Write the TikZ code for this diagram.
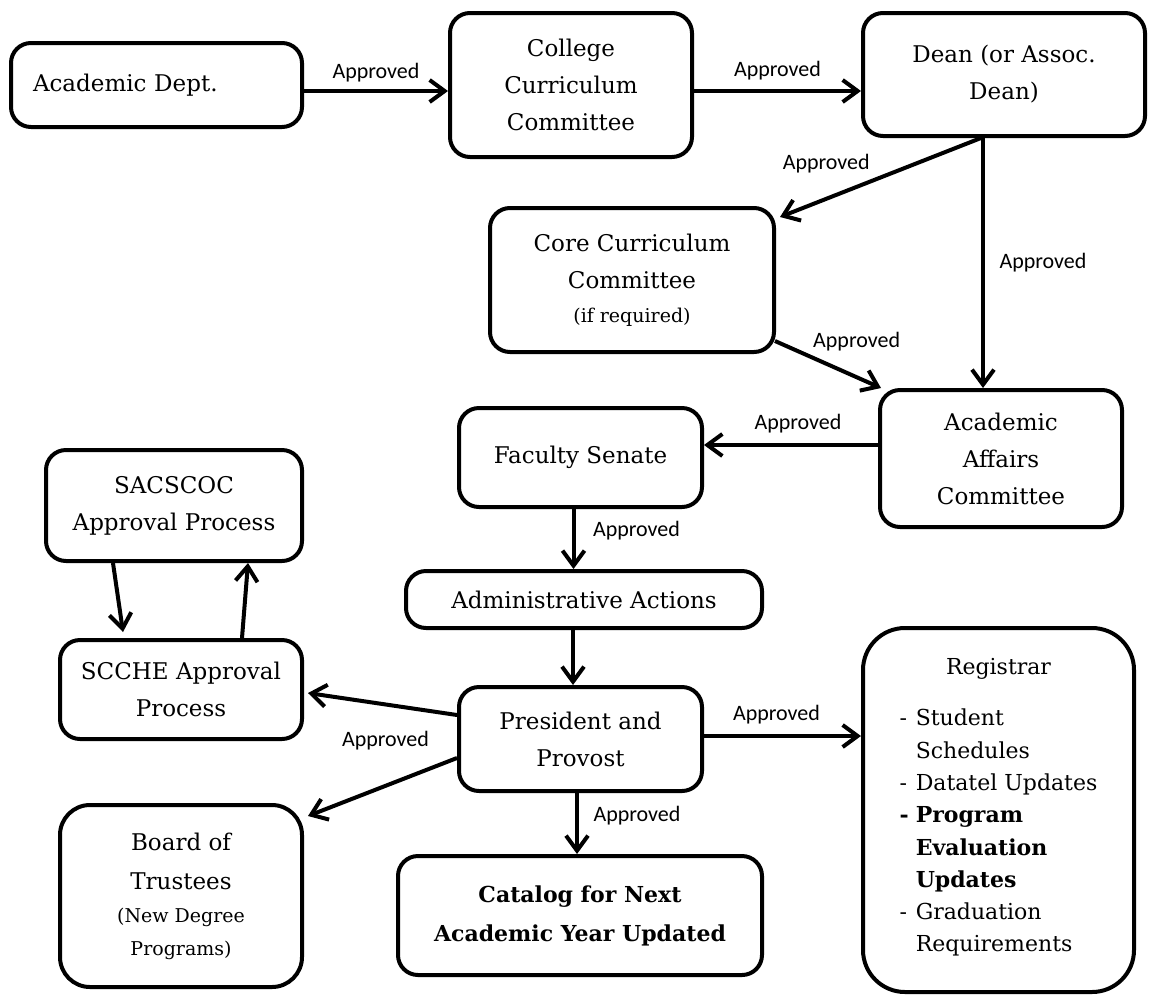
\documentclass[tikz,border=0pt]{standalone}
\usepackage{fontspec}
\setmainfont{DejaVu Serif}
\newfontfamily\lblfont{Carlito}
\usetikzlibrary{arrows.meta}
\newcommand{\smalltext}{\fontsize{19}{30}\selectfont}

\begin{document}
\begin{tikzpicture}[
		x=1pt,
		y=-1pt,
		box/.style={draw, line width=4pt, rounded corners=20pt, align=center, inner sep=0pt, font=\fontsize{23}{37}\selectfont},
		lbl/.style={font=\lblfont\fontsize{22}{26}\selectfont, inner sep=1pt},
		flow/.style={line width=4pt, -{Straight Barb[length=15pt,width=22pt]}},
	]
		\useasboundingbox (0,0) rectangle (1156,994);

		% top row
		\node[box, minimum width=291pt, minimum height=84pt, text width=247pt, align=left] (dept) at (156.5,85) {Academic Dept.};
		\node[box, minimum width=242pt, minimum height=144pt] (college) at (571,85) {College\\Curriculum\\Committee};
		\node[box, minimum width=282pt, minimum height=123pt] (dean) at (1004,74.5) {Dean (or Assoc.\\Dean)};

		\node[box, minimum width=284pt, minimum height=144pt] (core) at (632,280) {Core Curriculum\\Committee\\[-3pt]{\smalltext (if required)}};
		\node[box, minimum width=242pt, minimum height=137pt] (affairs) at (1001,458.5) {Academic\\Affairs\\Committee};
		\node[box, minimum width=243pt, minimum height=99pt] (senate) at (580.5,457.5) {Faculty Senate};

		% left column
		\node[box, minimum width=256pt, minimum height=111pt] (sacscoc) at (174,505.5) {SACSCOC\\Approval Process};
		\node[box, minimum width=242pt, minimum height=99pt] (scche) at (181,689.5) {SCCHE Approval\\Process};
		\node[box, rounded corners=30pt, minimum width=242pt, minimum height=182pt] (board) at (181,896) {Board of\\[2pt]Trustees\\[-4pt]{\smalltext (New Degree}\\[-4pt]{\smalltext Programs)}};

		% middle column
		\node[box, minimum width=356pt, minimum height=57pt] (admin) at (584,599.5) {Administrative Actions};
		\node[box, minimum width=243pt, minimum height=104pt] (pres) at (580.5,739) {President and\\Provost};
		\node[box, minimum width=364pt, minimum height=119pt, font=\fontsize{22}{39}\selectfont\bfseries] (catalog) at (580,915.5) {Catalog for Next\\Academic Year Updated};

		% registrar
		\node[box, rounded corners=42pt, minimum width=271pt, minimum height=364pt, font=\fontsize{22}{32.3}\selectfont] (registrar) at (998.5,810) {Registrar\\[19pt]
			\begin{tabular}[t]{@{}l@{\hspace{7pt}}l@{}}
				- & Student\\
				  & Schedules\\
				- & Datatel Updates\\
				\textbf{-} & \textbf{Program}\\
				  & \textbf{Evaluation}\\
				  & \textbf{Updates}\\
				- & Graduation\\
				  & Requirements
			\end{tabular}};

		% connectors
		\draw[flow] ([yshift=-6pt]dept.east) -- ([yshift=-6pt]dept.east -| college.west) node[lbl, midway, yshift=18pt] {Approved};
		\draw[flow] ([yshift=-6pt]college.east) -- ([yshift=-6pt]college.east -| dean.west) node[lbl, midway, yshift=20pt] {Approved};
		\draw[flow] ([xshift=-23pt]dean.south) -- ([xshift=4pt,yshift=-11pt]core.north east) node[lbl, pos=0.77, yshift=35pt] {Approved};
		\draw[flow] ([xshift=-21pt]dean.south) -- ([xshift=-21pt]dean.south |- affairs.north) node[lbl, midway, xshift=60pt] {Approved};
		\draw[flow] ([xshift=-1pt,yshift=13pt]core.south east) -- ([xshift=3pt]affairs.north west) node[lbl, pos=0.77, yshift=36pt] {Approved};
		\draw[flow] ([yshift=13.5pt]affairs.west) -- ([yshift=13.5pt]affairs.west -| senate.east) node[lbl, midway, xshift=7pt, yshift=21pt] {Approved};
		\draw[flow] ([xshift=-7pt]senate.south) -- ([xshift=-7pt]senate.south |- admin.north) node[lbl, midway, xshift=63pt, yshift=8pt] {Approved};
		\draw[flow] ([xshift=-11pt]admin.south) -- ([xshift=-11pt]admin.south |- pres.north);
		\draw[flow] ([yshift=24pt]pres.west) -- ([xshift=4pt,yshift=-3.5pt]scche.east) node[lbl, pos=0.48, yshift=-36pt] {Approved};
		\draw[flow] ([yshift=-19pt]pres.west) -- ([xshift=4pt,yshift=-13pt]board.north east);
		\draw[flow] ([yshift=3pt]pres.east) -- ([yshift=3pt]pres.east -| registrar.west) node[lbl, midway, xshift=-6pt, yshift=21pt] {Approved};
		\draw[flow] ([xshift=-3.5pt]pres.south) -- ([xshift=-3.5pt]pres.south |- catalog.north) node[lbl, midway, xshift=60pt, yshift=8pt] {Approved};
		\draw[flow] ([xshift=-61pt]sacscoc.south) -- ([xshift=-58pt,yshift=6pt]scche.north);
		\draw[flow] ([xshift=61pt]scche.north) -- ([xshift=74pt]sacscoc.south);
	\end{tikzpicture}
\end{document}
